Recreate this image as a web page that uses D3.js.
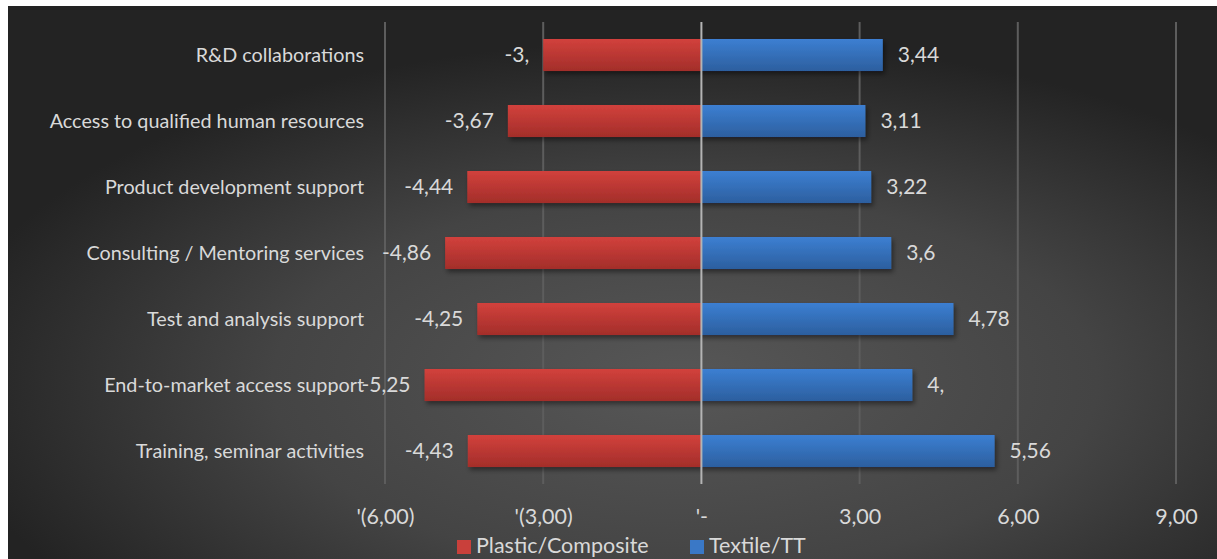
<!DOCTYPE html>
<html>
<head>
<meta charset="utf-8">
<script src="https://cdn.jsdelivr.net/npm/d3@7"></script>
<style>
  html, body { margin: 0; padding: 0; background: #ffffff; }
  svg { display: block; }
  text { font-family: Lato, "Open Sans", sans-serif; fill: #d9d9d9; }
</style>
</head>
<body>
<svg id="chart" width="1217" height="559"></svg>
<script>
// Categories, top to bottom
const categories = [
  "R&D collaborations",
  "Access to qualified human resources",
  "Product development support",
  "Consulting / Mentoring services",
  "Test and analysis support",
  "End-to-market access support",
  "Training, seminar activities"
];
// Plastic/Composite scores (plotted to the left)
const plasticValues = [-3.00, -3.67, -4.44, -4.86, -4.25, -5.25, -4.43];
// Textile/TT scores (plotted to the right)
const textileValues = [3.44, 3.11, 3.22, 3.6, 4.78, 4.00, 5.56];
const seriesNames = ["Plastic/Composite", "Textile/TT"];
// Axis tick values and their printed labels
const tickValues = [-6, -3, 0, 3, 6, 9];
const tickLabels = ["'(6,00)", "'(3,00)", "'-", "3,00", "6,00", "9,00"];

const W = 1217, H = 559;
const svg = d3.select("#chart");
const defs = svg.append("defs");

// Background: radial dark-grey gradient
const bg = defs.append("radialGradient").attr("id", "bgGrad")
  .attr("cx", "0.56").attr("cy", "0.68").attr("r", "0.62");
bg.append("stop").attr("offset", "0%").attr("stop-color", "#575757");
bg.append("stop").attr("offset", "55%").attr("stop-color", "#444444");
bg.append("stop").attr("offset", "100%").attr("stop-color", "#232323");

function barGrad(id, top, bottom) {
  const g = defs.append("linearGradient").attr("id", id)
    .attr("x1", 0).attr("y1", 0).attr("x2", 0).attr("y2", 1);
  g.append("stop").attr("offset", "0%").attr("stop-color", top);
  g.append("stop").attr("offset", "100%").attr("stop-color", bottom);
}
barGrad("redGrad", "#d2413c", "#a32e2a");
barGrad("blueGrad", "#3c7fd2", "#2c5f9f");

const shadow = defs.append("filter").attr("id", "shadow")
  .attr("x", "-5%").attr("y", "-30%").attr("width", "115%").attr("height", "180%");
shadow.append("feDropShadow").attr("dx", 2).attr("dy", 3)
  .attr("stdDeviation", 2.5).attr("flood-color", "#000").attr("flood-opacity", 0.45);

svg.append("rect").attr("x", 8).attr("y", 6).attr("width", W - 8).attr("height", H - 6)
  .attr("fill", "url(#bgGrad)");

// Scales
const x = d3.scaleLinear().domain([-6, 9]).range([385, 1176]);
const y = d3.scaleBand().domain(categories).range([22, 484])
  .paddingInner(0.515).paddingOuter(0.2575);

// Vertical gridlines
svg.append("g").selectAll("line").data(tickValues.filter(d => d !== 0)).join("line")
  .attr("x1", d => x(d)).attr("x2", d => x(d))
  .attr("y1", 22).attr("y2", 484)
  .attr("stroke", "#5d5d5d").attr("stroke-width", 2);

// Value label format: comma decimal, trailing zeros dropped
function fmt(v) {
  let s = (Math.round(v * 100) / 100).toString().replace(".", ",");
  if (Number.isInteger(v)) s += ",";
  return s;
}

const rows = categories.map((c, i) => ({ c, p: plasticValues[i], t: textileValues[i] }));

// Bars
const bars = svg.append("g").attr("filter", "url(#shadow)");
bars.selectAll("rect.p").data(rows).join("rect").attr("class", "p")
  .attr("x", d => x(d.p)).attr("width", d => x(0) - x(d.p))
  .attr("y", d => y(d.c)).attr("height", y.bandwidth())
  .attr("fill", "url(#redGrad)");
bars.selectAll("rect.t").data(rows).join("rect").attr("class", "t")
  .attr("x", x(0)).attr("width", d => x(d.t) - x(0))
  .attr("y", d => y(d.c)).attr("height", y.bandwidth())
  .attr("fill", "url(#blueGrad)");

// Zero line
svg.append("line").attr("x1", x(0)).attr("x2", x(0)).attr("y1", 22).attr("y2", 484)
  .attr("stroke", "#b4b4b4").attr("stroke-width", 2);

// Axis tick labels
const axis = d3.axisBottom(x).tickValues(tickValues).tickSize(0)
  .tickFormat((d, i) => tickLabels[i]);
const ax = svg.append("g").attr("transform", "translate(0,484)").call(axis);
ax.select(".domain").remove();
ax.selectAll("text").attr("dy", 0).attr("y", 40)
  .style("font-size", "21.5px").style("font-family", "Lato, sans-serif").attr("fill", "#d9d9d9");

// Category labels
svg.append("g").selectAll("text").data(categories).join("text")
  .attr("x", 364).attr("y", d => y(d) + y.bandwidth() / 2)
  .attr("dy", "0.35em").attr("text-anchor", "end")
  .style("font-size", "19.8px").text(d => d);

// Value labels
const lab = svg.append("g").style("font-size", "21px");
lab.selectAll("text.p").data(rows).join("text").attr("class", "p")
  .attr("x", d => x(d.p) - 14).attr("y", d => y(d.c) + y.bandwidth() / 2)
  .attr("dy", "0.35em").attr("text-anchor", "end").text(d => fmt(d.p));
lab.selectAll("text.t").data(rows).join("text").attr("class", "t")
  .attr("x", d => x(d.t) + 15).attr("y", d => y(d.c) + y.bandwidth() / 2)
  .attr("dy", "0.35em").attr("text-anchor", "start").text(d => fmt(d.t));

// Legend
const legendColors = ["#c9403b", "#3a78c6"];
const lg = svg.append("g");
const legendX = [457, 690];
seriesNames.forEach((n, i) => {
  lg.append("rect").attr("x", legendX[i]).attr("y", 540).attr("width", 14).attr("height", 14)
    .attr("fill", legendColors[i]);
  lg.append("text").attr("x", legendX[i] + 19).attr("y", 545).attr("dy", "0.35em")
    .style("font-size", "21.5px").text(n);
});
</script>
</body>
</html>
